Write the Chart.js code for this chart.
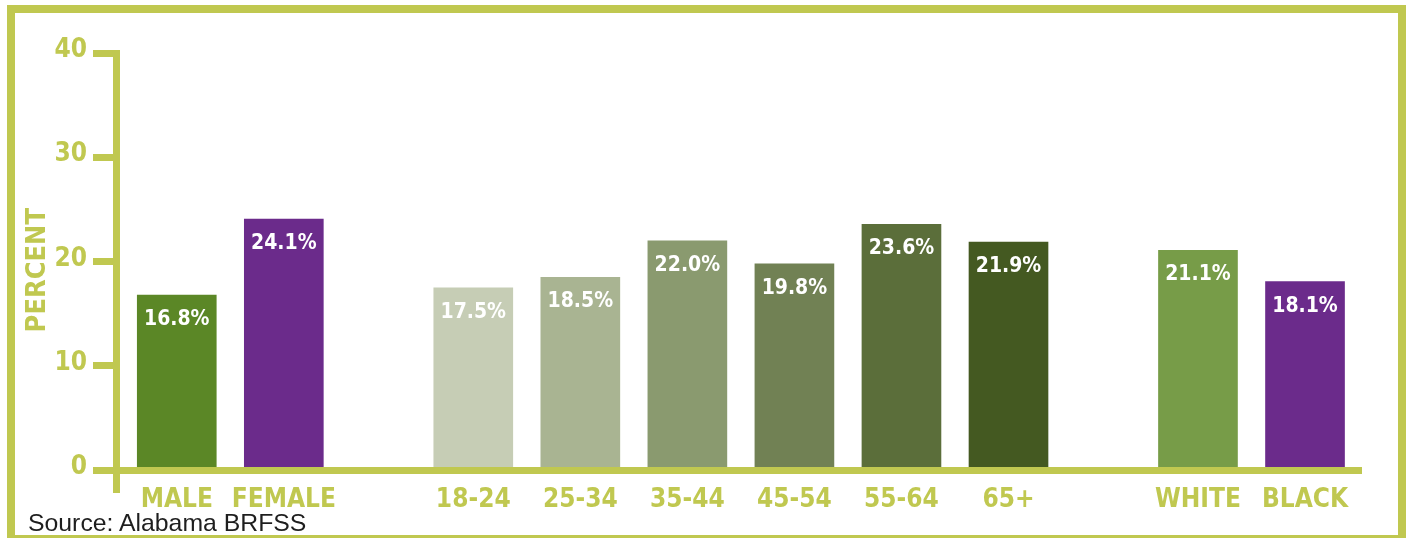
<!DOCTYPE html>
<html>
<head>
<meta charset="utf-8">
<title>Percent by sex, age and race</title>
<script src="https://cdn.jsdelivr.net/npm/chart.js@4/dist/chart.umd.min.js"></script>
<style>
  html, body { margin: 0; padding: 0; background: #fff; }
  #wrap { position: relative; width: 1408px; height: 538px; overflow: hidden; }
  #frame {
    position: absolute; left: 7px; top: 5px; width: 1399px; height: 538px;
    box-sizing: border-box; border: 8px solid #c0c850;
  }
  #chart { position: absolute; left: 0; top: 0; }
  #source {
    position: absolute; left: 28px; top: 511px;
    font: 24.8px 'Liberation Sans', Arial, sans-serif; line-height: 24px;
    color: #1e1e1e; white-space: nowrap;
  }
</style>
</head>
<body>
<div id="wrap">
  <div id="frame"></div>
  <canvas id="chart" width="1408" height="538"></canvas>
  <div id="source">Source: Alabama BRFSS</div>
</div>
<script>
// ---- data -------------------------------------------------------------
const sexCategories  = ['MALE', 'FEMALE'];
const sexValues      = [16.8, 24.1];

const ageCategories  = ['18-24', '25-34', '35-44', '45-54', '55-64', '65+'];
const ageValues      = [17.5, 18.5, 22.0, 19.8, 23.6, 21.9];

const raceCategories = ['WHITE', 'BLACK'];
const raceValues     = [21.1, 18.1];

const yTickValues    = [0, 10, 20, 30, 40];

// ---- styles -----------------------------------------------------------
const sexColors  = ['#5b8726', '#6b2b8b'];
const ageColors  = ['#c6cdb5', '#a9b492', '#8a9a6f', '#718154', '#5b6e3a', '#445921'];
const raceColors = ['#779c48', '#6b2b8b'];

const LIME = '#c0c850';
const FAMILY = "'DejaVu Sans Condensed', 'DejaVu Sans', sans-serif";
const GROUP_GAP = 0.77;   // extra room between the groups, in bar slots
const LEAD = 0.563;       // room before the first bar, in bar slots
const TRAIL = 0.523;      // room after the last bar, in bar slots

// ---- build one bar series, groups laid side by side --------------------
const groups = [
  { cats: sexCategories,  vals: sexValues,  colors: sexColors },
  { cats: ageCategories,  vals: ageValues,  colors: ageColors },
  { cats: raceCategories, vals: raceValues, colors: raceColors }
];

const allCategories = [];
const points = [];
const barColors = [];
let slot = 0;
groups.forEach((g, gi) => {
  if (gi > 0) slot += GROUP_GAP;
  g.cats.forEach((c, i) => {
    allCategories.push(c);
    points.push({ x: slot, y: g.vals[i] });
    barColors.push(g.colors[i]);
    slot += 1;
  });
});
const xMin = -LEAD;
const xMax = points[points.length - 1].x + TRAIL;

// white value labels just inside the top of each bar
const valueLabels = {
  id: 'valueLabels',
  afterDatasetsDraw(chart) {
    const ctx = chart.ctx;
    const meta = chart.getDatasetMeta(0);
    const ds = chart.data.datasets[0];
    ctx.save();
    ctx.font = 'bold 21px ' + FAMILY;
    ctx.fillStyle = '#ffffff';
    ctx.textAlign = 'center';
    ctx.textBaseline = 'alphabetic';
    meta.data.forEach((bar, i) => {
      ctx.fillText(ds.data[i].y.toFixed(1) + '%', bar.x, bar.y + 30);
    });
    ctx.restore();
  }
};

new Chart(document.getElementById('chart'), {
  type: 'bar',
  data: {
    datasets: [{
      data: points,
      backgroundColor: barColors,
      borderWidth: 0,
      barThickness: 79
    }]
  },
  options: {
    responsive: false,
    animation: false,
    devicePixelRatio: 1,
    layout: { padding: { left: 0, top: 53.5, right: 47, bottom: 0 } },
    plugins: { legend: { display: false }, tooltip: { enabled: false } },
    scales: {
      x: {
        type: 'linear',
        min: xMin,
        max: xMax,
        offset: false,
        afterBuildTicks: s => { s.ticks = [xMin].concat(points.map(p => p.x)).map(v => ({ value: v })); },
        afterFit: s => { s.height = 68; },
        border: { color: LIME, width: 7, z: 1 },
        grid: {
          drawOnChartArea: false,
          offset: false,
          tickLength: 23,
          tickWidth: 7,
          tickColor: c => (c.index === 0 ? LIME : 'rgba(0,0,0,0)')
        },
        ticks: {
          autoSkip: false,
          maxRotation: 0,
          minRotation: 0,
          padding: -8,
          color: LIME,
          font: { family: FAMILY, size: 26, weight: 'bold' },
          callback: (v, i) => (i === 0 ? '' : allCategories[i - 1])
        }
      },
      y: {
        min: 0,
        max: 40,
        afterBuildTicks: s => { s.ticks = yTickValues.map(v => ({ value: v })); },
        afterFit: s => { s.width = 116.5; },
        border: { color: LIME, width: 7 },
        grid: { drawOnChartArea: false, color: LIME, tickLength: 23.5, tickWidth: 7 },
        ticks: {
          color: LIME,
          padding: 6,
          labelOffset: -3,
          font: { family: FAMILY, size: 26, weight: 'bold' }
        },
        title: {
          display: true,
          text: 'PERCENT  ',
          color: LIME,
          font: { family: FAMILY, size: 27, weight: 'bold' },
          padding: { top: 22, bottom: 0 }
        }
      }
    }
  },
  plugins: [valueLabels]
});
</script>
</body>
</html>
